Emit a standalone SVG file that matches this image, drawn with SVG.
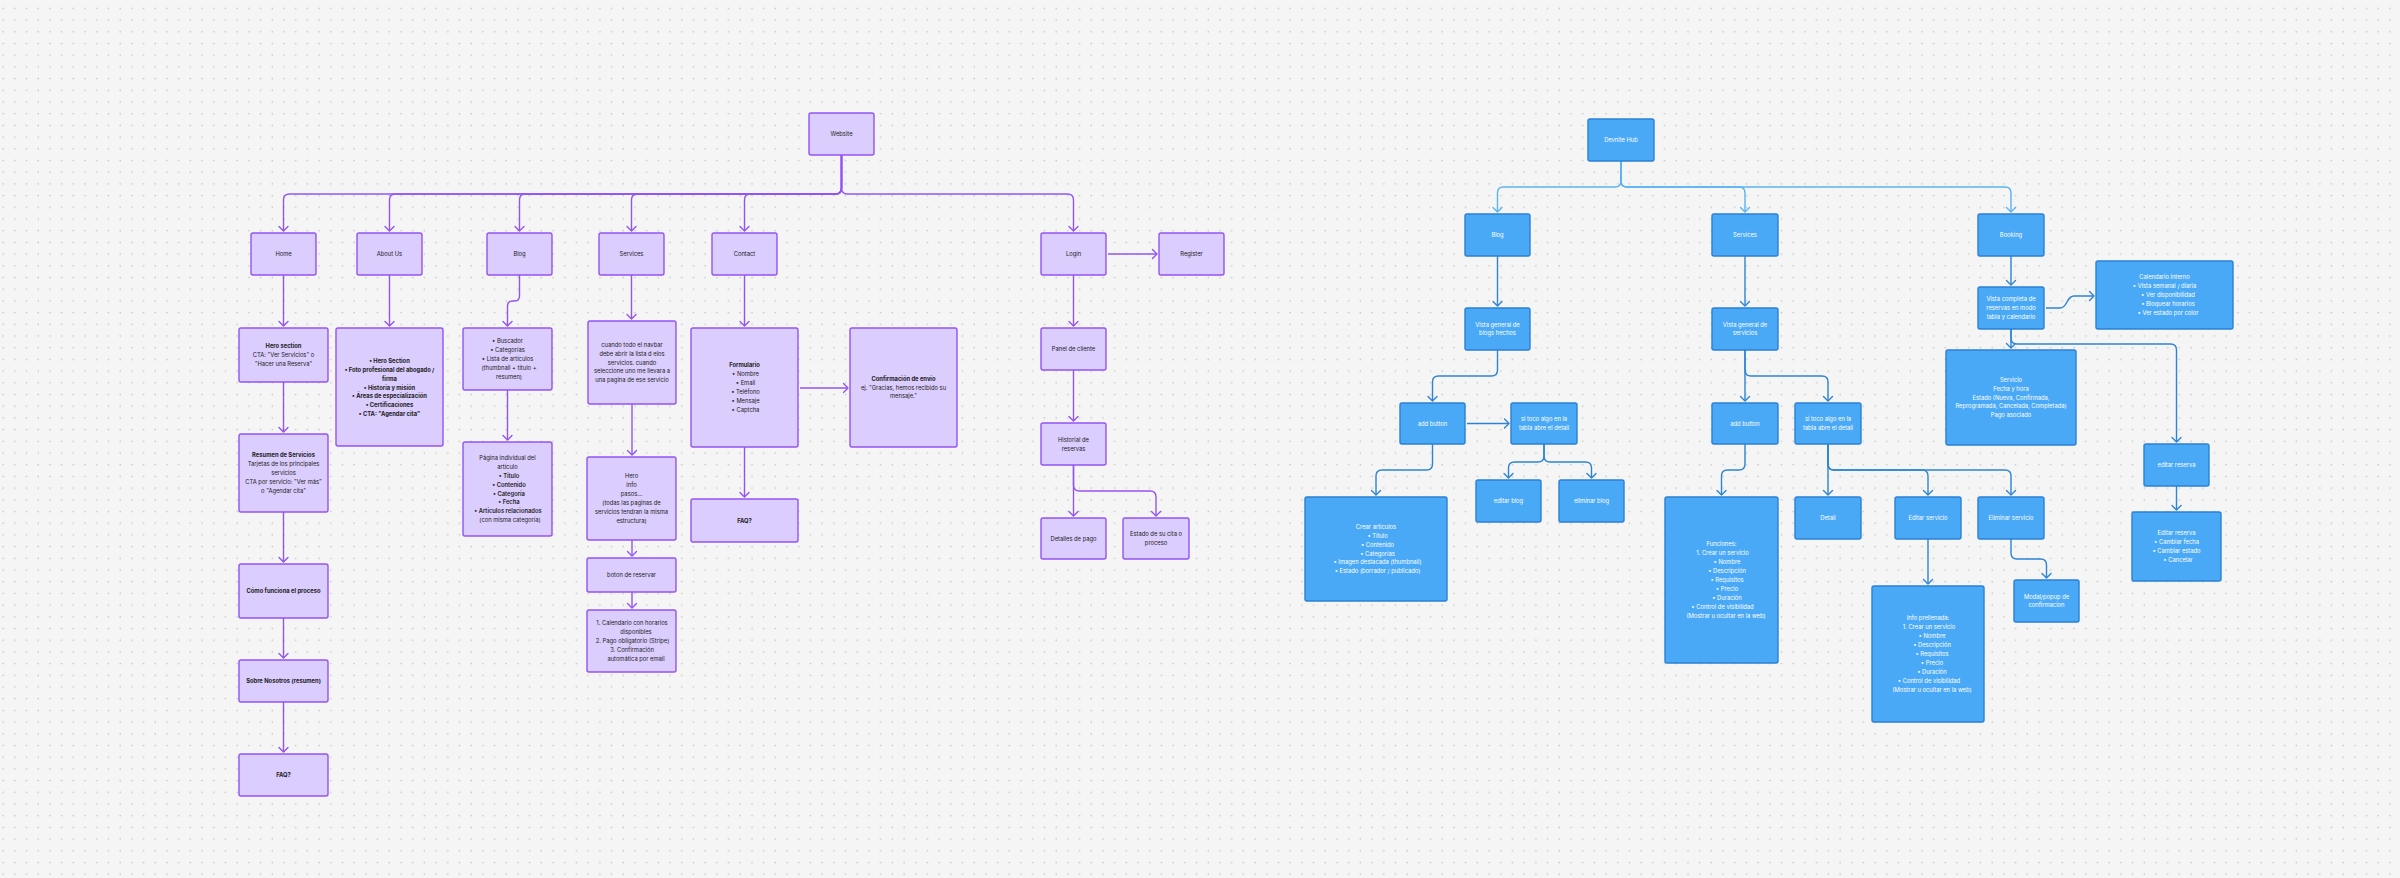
<svg xmlns="http://www.w3.org/2000/svg" width="2400" height="878" viewBox="0 0 2400 878">
<defs>
<pattern id="dots" width="11.7" height="11.7" patternUnits="userSpaceOnUse"><circle cx="3.2" cy="8.3" r="0.85" fill="#c6c6c6"/></pattern>
<marker id="ap" markerUnits="userSpaceOnUse" markerWidth="12" markerHeight="12" viewBox="0 0 12 12" refX="10" refY="6" orient="auto"><path d="M5.5,1.5 L10,6 L5.5,10.5" fill="none" stroke="#9254f5" stroke-width="1.4" stroke-linecap="round" stroke-linejoin="round"/></marker>
<marker id="al" markerUnits="userSpaceOnUse" markerWidth="12" markerHeight="12" viewBox="0 0 12 12" refX="10" refY="6" orient="auto"><path d="M5.5,1.5 L10,6 L5.5,10.5" fill="none" stroke="#5bb2f4" stroke-width="1.4" stroke-linecap="round" stroke-linejoin="round"/></marker>
<marker id="ad" markerUnits="userSpaceOnUse" markerWidth="12" markerHeight="12" viewBox="0 0 12 12" refX="10" refY="6" orient="auto"><path d="M5.5,1.5 L10,6 L5.5,10.5" fill="none" stroke="#2d84d6" stroke-width="1.4" stroke-linecap="round" stroke-linejoin="round"/></marker>
</defs>
<style>
.pn rect{fill:#dbcdfe;stroke:#9254f5;stroke-width:1.4}
.bn rect{fill:#4aa9f7;stroke:#2b80d3;stroke-width:1.4}
text{font-family:Inter,"Liberation Sans",sans-serif;font-size:5.8px;text-anchor:middle}
.pn text{fill:#222222}
.bn text{fill:#ffffff}
.b{font-weight:700}
.m{font-weight:600}
#pc path{fill:none;stroke:#9254f5;stroke-width:1.4;marker-end:url(#ap);stroke-linejoin:round}
#bc path{fill:none;stroke:#2d84d6;stroke-width:1.4;marker-end:url(#ad);stroke-linejoin:round}
#bc path.l{stroke:#5bb2f4;marker-end:url(#al)}
</style>
<rect width="2400" height="878" fill="#f5f5f5"/>
<rect width="2400" height="878" fill="url(#dots)"/>

<g id="pc">
<path d="M841.5,155 V188 Q841.5,194 835.5,194 H289.5 Q283.5,194 283.5,200 V231"/>
<path d="M841.5,155 V188 Q841.5,194 835.5,194 H395.5 Q389.5,194 389.5,200 V231"/>
<path d="M841.5,155 V188 Q841.5,194 835.5,194 H525.5 Q519.5,194 519.5,200 V231"/>
<path d="M841.5,155 V188 Q841.5,194 835.5,194 H637.5 Q631.5,194 631.5,200 V231"/>
<path d="M841.5,155 V188 Q841.5,194 835.5,194 H750.5 Q744.5,194 744.5,200 V231"/>
<path d="M841.5,155 V188 Q841.5,194 847.5,194 H1067.5 Q1073.5,194 1073.5,200 V231"/>
<path d="M283.5,275 V326"/>
<path d="M283.5,382 V432"/>
<path d="M283.5,512 V562"/>
<path d="M283.5,618 V658"/>
<path d="M283.5,702 V752"/>
<path d="M389.5,275 V326"/>
<path d="M519.5,275 V296 Q519.5,301 514.5,301 H512.5 Q507.5,301 507.5,306 V326"/>
<path d="M507.5,390 V440"/>
<path d="M631.5,275 V319"/>
<path d="M632,404 V455"/>
<path d="M632,540 V556"/>
<path d="M632,592 V608"/>
<path d="M744.5,275 V326"/>
<path d="M744.5,447 V497"/>
<path d="M800,388 H848"/>
<path d="M1108,254 H1157"/>
<path d="M1073.5,275 V326"/>
<path d="M1073.5,370 V421"/>
<path d="M1073.5,465 V516"/>
<path d="M1073.5,465 V485 Q1073.5,491 1079.5,491 H1150 Q1156,491 1156,497 V516"/>
</g>

<g id="bc">
<path class="l" d="M1621,161 V181 Q1621,187 1615,187 H1503.5 Q1497.5,187 1497.5,193 V212"/>
<path class="l" d="M1621,161 V181 Q1621,187 1627,187 H1739 Q1745,187 1745,193 V212"/>
<path class="l" d="M1621,161 V181 Q1621,187 1627,187 H2005 Q2011,187 2011,193 V212"/>
<path d="M1497.5,256 V306"/>
<path d="M1745,256 V306"/>
<path d="M2011,256 V285"/>
<path d="M1497.5,350 V370 Q1497.5,376 1491.5,376 H1438.5 Q1432.5,376 1432.5,382 V401"/>
<path d="M1467,423.5 H1509"/>
<path d="M1745,350 V401"/>
<path d="M1745,350 V370 Q1745,376 1751,376 H1822 Q1828,376 1828,382 V401"/>
<path d="M1544,444 V456 Q1544,462 1538,462 H1514.5 Q1508.5,462 1508.5,468 V478"/>
<path d="M1544,444 V456 Q1544,462 1550,462 H1585.5 Q1591.5,462 1591.5,468 V478"/>
<path d="M1432.5,444 V464 Q1432.5,470 1426.5,470 H1382 Q1376,470 1376,476 V495"/>
<path d="M1745,444 V464 Q1745,470 1739,470 H1727.5 Q1721.5,470 1721.5,476 V495"/>
<path d="M1828,444 V495"/>
<path d="M1828,444 V464 Q1828,470 1834,470 H1922 Q1928,470 1928,476 V495"/>
<path d="M1828,444 V464 Q1828,470 1834,470 H2005 Q2011,470 2011,476 V495"/>
<path d="M1928,539 V584"/>
<path d="M2011,539 V553 Q2011,559 2017,559 H2040.5 Q2046.5,559 2046.5,565 V578"/>
<path d="M2046,308 H2060 C2068,308 2066,296 2074,296 H2094"/>
<path d="M2011,329 V348"/>
<path d="M2011,329 V338 Q2011,344 2017,344 H2170.5 Q2176.5,344 2176.5,350 V442"/>
<path d="M2176.5,486 V510"/>
</g>

<g id="website" class="pn"><rect x="809" y="113" width="65" height="42" rx="2"/><text x="841.5" y="136">Website</text></g>
<g id="home" class="pn"><rect x="251" y="233" width="65" height="42" rx="2"/><text x="283.5" y="256">Home</text></g>
<g id="about" class="pn"><rect x="357" y="233" width="65" height="42" rx="2"/><text x="389.5" y="256">About Us</text></g>
<g id="blog" class="pn"><rect x="487" y="233" width="65" height="42" rx="2"/><text x="519.5" y="256">Blog</text></g>
<g id="services" class="pn"><rect x="599" y="233" width="65" height="42" rx="2"/><text x="631.5" y="256">Services</text></g>
<g id="contact" class="pn"><rect x="712" y="233" width="65" height="42" rx="2"/><text x="744.5" y="256">Contact</text></g>
<g id="login" class="pn"><rect x="1041" y="233" width="65" height="42" rx="2"/><text x="1073.5" y="256">Login</text></g>
<g id="register" class="pn"><rect x="1159" y="233" width="65" height="42" rx="2"/><text x="1191.5" y="256">Register</text></g>

<g id="hero" class="pn"><rect x="239" y="328" width="89" height="54" rx="2"/><text x="283.5" y="348.1"><tspan class="b">Hero section</tspan><tspan x="283.5" dy="8.9">CTA: "Ver Servicios" o</tspan><tspan x="283.5" dy="8.9">"Hacer una Reserva"</tspan></text></g>
<g id="resumen" class="pn"><rect x="239" y="434" width="89" height="78" rx="2"/><text x="283.5" y="457.2"><tspan class="b">Resumen de Servicios</tspan><tspan x="283.5" dy="8.9">Tarjetas de los principales</tspan><tspan x="283.5" dy="8.9">servicios</tspan><tspan x="283.5" dy="8.9">CTA por servicio: "Ver más"</tspan><tspan x="283.5" dy="8.9">o "Agendar cita"</tspan></text></g>
<g id="como" class="pn"><rect x="239" y="564" width="89" height="54" rx="2"/><text x="283.5" y="593" class="b">Cómo funciona el proceso</text></g>
<g id="sobre" class="pn"><rect x="239" y="660" width="89" height="42" rx="2"/><text x="283.5" y="683" class="b">Sobre Nosotros (resumen)</text></g>
<g id="faq-home" class="pn"><rect x="239" y="754" width="89" height="42" rx="2"/><text x="283.5" y="777" class="b">FAQ?</text></g>

<g id="about-detail" class="pn"><rect x="336" y="328" width="107" height="118" rx="2"/><text x="389.5" y="362.8" class="b"><tspan>• Hero Section</tspan><tspan x="389.5" dy="8.9">• Foto profesional del abogado /</tspan><tspan x="389.5" dy="8.9">firma</tspan><tspan x="389.5" dy="8.9">• Historia y misión</tspan><tspan x="389.5" dy="8.9">• Áreas de especialización</tspan><tspan x="389.5" dy="8.9">• Certificaciones</tspan><tspan x="389.5" dy="8.9">• CTA: "Agendar cita"</tspan></text></g>

<g id="blog-list" class="pn"><rect x="463" y="328" width="89" height="62" rx="2"/><text x="507.5" y="343.2"><tspan>• Buscador</tspan><tspan x="507.5" dy="8.9">• Categorías</tspan><tspan x="507.5" dy="8.9">• Lista de artículos</tspan><tspan x="509" dy="8.9">(thumbnail + título +</tspan><tspan x="509" dy="8.9">resumen)</tspan></text></g>
<g id="blog-article" class="pn"><rect x="463" y="442" width="89" height="94" rx="2"/><text x="507.5" y="459.9"><tspan>Página individual del</tspan><tspan x="507.5" dy="8.9">artículo</tspan><tspan x="509" dy="8.9" class="m">• Título</tspan><tspan x="509" dy="8.9" class="m">• Contenido</tspan><tspan x="509" dy="8.9" class="m">• Categoría</tspan><tspan x="509" dy="8.9" class="m">• Fecha</tspan><tspan x="508" dy="8.9" class="m">• Artículos relacionados</tspan><tspan x="510" dy="8.9">(con misma categoría)</tspan></text></g>

<g id="services-nav" class="pn"><rect x="588" y="321" width="88" height="83" rx="2"/><text x="632" y="346.7"><tspan>cuando todo el navbar</tspan><tspan x="632" dy="8.9">debe abrir la lista d elos</tspan><tspan x="632" dy="8.9">servicios. cuando</tspan><tspan x="632" dy="8.9">seleccione uno me llevara a</tspan><tspan x="632" dy="8.9">una pagina de ese servicio</tspan></text></g>
<g id="services-page" class="pn"><rect x="587" y="457" width="89" height="83" rx="2"/><text x="631.5" y="478.3"><tspan>Hero</tspan><tspan x="631.5" dy="8.9">info</tspan><tspan x="631.5" dy="8.9">pasos...</tspan><tspan x="631.5" dy="8.9">(todas las paginas de</tspan><tspan x="631.5" dy="8.9">servicios tendran la misma</tspan><tspan x="631.5" dy="8.9">estructura)</tspan></text></g>
<g id="boton" class="pn"><rect x="587" y="558" width="89" height="34" rx="2"/><text x="631.5" y="577">boton de reservar</text></g>
<g id="reserva-steps" class="pn"><rect x="587" y="610" width="89" height="62" rx="2"/><text x="632" y="625.2"><tspan>1. Calendario con horarios</tspan><tspan x="636" dy="8.9">disponibles</tspan><tspan x="632.5" dy="8.9">2. Pago obligatorio (Stripe)</tspan><tspan x="632" dy="8.9">3. Confirmación</tspan><tspan x="636" dy="8.9">automática por email</tspan></text></g>

<g id="formulario" class="pn"><rect x="691" y="328" width="107" height="119" rx="2"/><text x="744.5" y="367.3"><tspan class="b">Formulario</tspan><tspan x="745.5" dy="8.9">• Nombre</tspan><tspan x="745.5" dy="8.9">• Email</tspan><tspan x="745.5" dy="8.9">• Teléfono</tspan><tspan x="745.5" dy="8.9">• Mensaje</tspan><tspan x="745.5" dy="8.9">• Captcha</tspan></text></g>
<g id="confirmacion" class="pn"><rect x="850" y="328" width="107" height="119" rx="2"/><text x="903.5" y="380.6"><tspan class="b">Confirmación de envío</tspan><tspan x="903.5" dy="8.9">ej. "Gracias, hemos recibido su</tspan><tspan x="903.5" dy="8.9">mensaje."</tspan></text></g>
<g id="faq-contact" class="pn"><rect x="691" y="499" width="107" height="43" rx="2"/><text x="744.5" y="522.5" class="b">FAQ?</text></g>

<g id="panel" class="pn"><rect x="1041" y="328" width="65" height="42" rx="2"/><text x="1073.5" y="351">Panel de cliente</text></g>
<g id="historial" class="pn"><rect x="1041" y="423" width="65" height="42" rx="2"/><text x="1073.5" y="441.6"><tspan>Historial de</tspan><tspan x="1073.5" dy="8.9">reservas</tspan></text></g>
<g id="detalles-pago" class="pn"><rect x="1041" y="518" width="65" height="41" rx="2"/><text x="1073.5" y="540.5">Detalles de pago</text></g>
<g id="estado-cita" class="pn"><rect x="1123" y="518" width="66" height="41" rx="2"/><text x="1156" y="536"><tspan>Estado de su cita o</tspan><tspan x="1156" dy="8.9">proceso</tspan></text></g>

<g id="devnite" class="bn"><rect x="1588" y="119" width="66" height="42" rx="2"/><text x="1621" y="142">Devnite Hub</text></g>
<g id="b-blog" class="bn"><rect x="1465" y="214" width="65" height="42" rx="2"/><text x="1497.5" y="237">Blog</text></g>
<g id="b-services" class="bn"><rect x="1712" y="214" width="66" height="42" rx="2"/><text x="1745" y="237">Services</text></g>
<g id="b-booking" class="bn"><rect x="1978" y="214" width="66" height="42" rx="2"/><text x="2011" y="237">Booking</text></g>
<g id="b-vista-blogs" class="bn"><rect x="1465" y="308" width="65" height="42" rx="2"/><text x="1497.5" y="326.5"><tspan>Vista general de</tspan><tspan x="1497.5" dy="8.9">blogs hechos</tspan></text></g>
<g id="b-vista-servicios" class="bn"><rect x="1712" y="308" width="66" height="42" rx="2"/><text x="1745" y="326.5"><tspan>Vista general de</tspan><tspan x="1745" dy="8.9">servicios</tspan></text></g>
<g id="b-vista-reservas" class="bn"><rect x="1978" y="287" width="66" height="42" rx="2"/><text x="2011" y="301.1"><tspan>Vista completa de</tspan><tspan x="2011" dy="8.9">reservas en modo</tspan><tspan x="2011" dy="8.9">tabla y calendario</tspan></text></g>
<g id="b-calendario" class="bn"><rect x="2096" y="261" width="137" height="68" rx="2"/><text x="2164.5" y="279.2"><tspan>Calendario interno</tspan><tspan x="2164.5" dy="8.9">• Vista semanal / diaria</tspan><tspan x="2168" dy="8.9">• Ver disponibilidad</tspan><tspan x="2168" dy="8.9">• Bloquear horarios</tspan><tspan x="2168" dy="8.9">• Ver estado por color</tspan></text></g>
<g id="b-servicio" class="bn"><rect x="1946" y="350" width="130" height="95" rx="2"/><text x="2011" y="381.7"><tspan>Servicio</tspan><tspan x="2011" dy="8.9">Fecha y hora</tspan><tspan x="2011" dy="8.9">Estado (Nueva, Confirmada,</tspan><tspan x="2011" dy="8.9">Reprogramada, Cancelada, Completada)</tspan><tspan x="2011" dy="8.9">Pago asociado</tspan></text></g>
<g id="b-editar-reserva" class="bn"><rect x="2144" y="444" width="65" height="42" rx="2"/><text x="2176.5" y="467">editar reserva</text></g>
<g id="b-editar-reserva-detail" class="bn"><rect x="2132" y="512" width="89" height="69" rx="2"/><text x="2176.5" y="535.2"><tspan>Editar reserva</tspan><tspan x="2176.5" dy="8.9">• Cambiar fecha</tspan><tspan x="2176.5" dy="8.9">• Cambiar estado</tspan><tspan x="2178" dy="8.9">• Cancelar</tspan></text></g>
<g id="b-blog-add" class="bn"><rect x="1400" y="403" width="65" height="41" rx="2"/><text x="1432.5" y="425.5">add button</text></g>
<g id="b-blog-detail" class="bn"><rect x="1511" y="403" width="66" height="41" rx="2"/><text x="1544" y="421"><tspan>si toco algo en la</tspan><tspan x="1544" dy="8.9">tabla abre el detail</tspan></text></g>
<g id="b-serv-add" class="bn"><rect x="1712" y="403" width="66" height="41" rx="2"/><text x="1745" y="425.5">add button</text></g>
<g id="b-serv-detail" class="bn"><rect x="1795" y="403" width="66" height="41" rx="2"/><text x="1828" y="421"><tspan>si toco algo en la</tspan><tspan x="1828" dy="8.9">tabla abre el detail</tspan></text></g>
<g id="b-crear-articulos" class="bn"><rect x="1305" y="497" width="142" height="104" rx="2"/><text x="1376" y="528.8"><tspan>Crear artículos</tspan><tspan x="1377.5" dy="8.9">• Título</tspan><tspan x="1377.5" dy="8.9">• Contenido</tspan><tspan x="1377.5" dy="8.9">• Categorías</tspan><tspan x="1377.5" dy="8.9">• Imagen destacada (thumbnail)</tspan><tspan x="1377.5" dy="8.9">• Estado (borrador / publicado)</tspan></text></g>
<g id="b-editar-blog" class="bn"><rect x="1476" y="480" width="65" height="42" rx="2"/><text x="1508.5" y="503">editar blog</text></g>
<g id="b-eliminar-blog" class="bn"><rect x="1559" y="480" width="65" height="42" rx="2"/><text x="1591.5" y="503">eliminar blog</text></g>
<g id="b-funciones" class="bn"><rect x="1665" y="497" width="113" height="166" rx="2"/><text x="1721.5" y="546.4"><tspan>Funciones:</tspan><tspan x="1722.5" dy="8.9">1. Crear un servicio</tspan><tspan x="1727" dy="8.9">• Nombre</tspan><tspan x="1727" dy="8.9">• Descripción</tspan><tspan x="1727" dy="8.9">• Requisitos</tspan><tspan x="1727" dy="8.9">• Precio</tspan><tspan x="1727" dy="8.9">• Duración</tspan><tspan x="1722.5" dy="8.9">• Control de visibilidad</tspan><tspan x="1726" dy="8.9">(Mostrar u ocultar en la web)</tspan></text></g>
<g id="b-detail" class="bn"><rect x="1795" y="497" width="66" height="42" rx="2"/><text x="1828" y="520">Detail</text></g>
<g id="b-editar-servicio" class="bn"><rect x="1895" y="497" width="66" height="42" rx="2"/><text x="1928" y="520">Editar servicio</text></g>
<g id="b-eliminar-servicio" class="bn"><rect x="1978" y="497" width="66" height="42" rx="2"/><text x="2011" y="520">Eliminar servicio</text></g>
<g id="b-info-prellenada" class="bn"><rect x="1872" y="586" width="112" height="136" rx="2"/><text x="1928" y="620.4"><tspan>Info prellenada:</tspan><tspan x="1929" dy="8.9">1. Crear un servicio</tspan><tspan x="1932" dy="8.9">• Nombre</tspan><tspan x="1932" dy="8.9">• Descripción</tspan><tspan x="1932" dy="8.9">• Requisitos</tspan><tspan x="1932" dy="8.9">• Precio</tspan><tspan x="1932" dy="8.9">• Duración</tspan><tspan x="1929" dy="8.9">• Control de visibilidad</tspan><tspan x="1932" dy="8.9">(Mostrar u ocultar en la web)</tspan></text></g>
<g id="b-modal" class="bn"><rect x="2014" y="580" width="65" height="42" rx="2"/><text x="2046.5" y="598.5"><tspan>Modal/popup de</tspan><tspan x="2046.5" dy="8.9">confirmacion</tspan></text></g>
</svg>
